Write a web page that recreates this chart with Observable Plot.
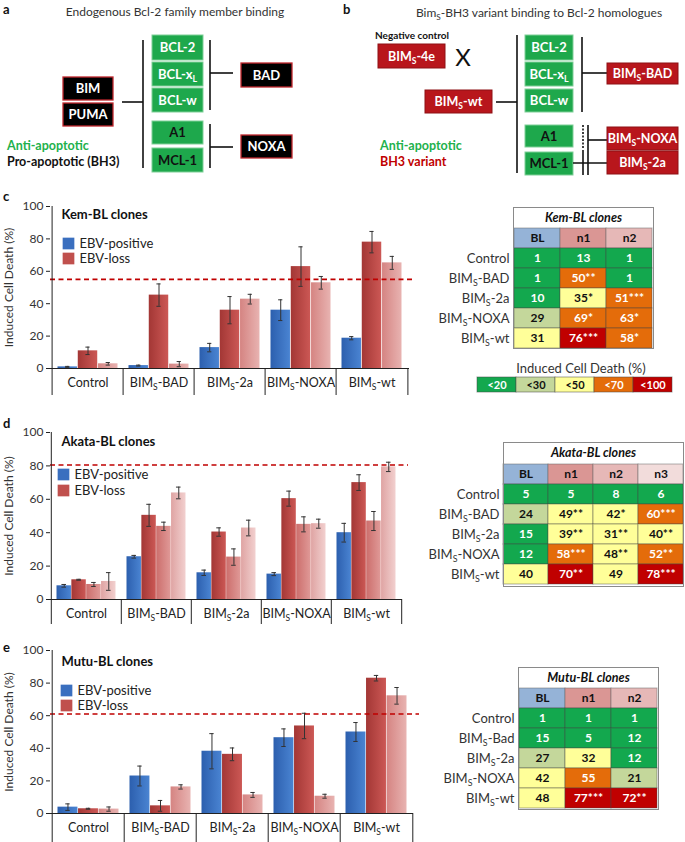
<!DOCTYPE html>
<html><head><meta charset="utf-8">
<script src="https://cdn.jsdelivr.net/npm/d3@7"></script>
<script src="https://cdn.jsdelivr.net/npm/@observablehq/plot@0.6"></script>
<style>
body{margin:0;background:#fff;font-family:Lato,"Open Sans",sans-serif;}
#root{position:relative;width:685px;height:842px;overflow:hidden;background:#fff;}
.abs{position:absolute;}
</style></head><body><div id="root"></div>
<script>
// ---------- data ----------
const categories = ["Control","BIM_S-BAD","BIM_S-2a","BIM_S-NOXA","BIM_S-wt"];
const legendNames = ["EBV-positive","EBV-loss"];

// panel c: Kem-BL clones
const kemSeries = ["BL","n1","n2"];
const kemBL     = [1.0, 1.8, 12.9, 36.0, 18.7];
const kemBLErr  = [0.3, 0.3, 2.6, 6.4, 1.0];
const kemN1     = [10.9, 45.3, 36.0, 62.9, 78.0];
const kemN1Err  = [2.3, 6.9, 8.4, 12.2, 6.6];
const kemN2     = [2.9, 2.7, 42.8, 52.9, 65.2];
const kemN2Err  = [0.8, 1.6, 3.0, 3.9, 4.0];
const kemLine   = 55;

// panel d: Akata-BL clones
const akataSeries = ["BL","n1","n2","n3"];
const akataBL     = [8.2, 25.6, 16.0, 15.2, 40.0];
const akataBLErr  = [0.8, 0.8, 1.6, 0.9, 5.6];
const akataN1     = [11.8, 50.4, 40.4, 60.4, 70.0];
const akataN1Err  = [0.3, 6.6, 2.5, 4.5, 4.7];
const akataN2     = [9.0, 43.8, 25.4, 45.0, 47.0];
const akataN2Err  = [1.2, 2.5, 4.9, 4.5, 5.7];
const akataN3     = [10.8, 63.8, 42.8, 45.4, 79.4];
const akataN3Err  = [5.3, 3.5, 4.7, 2.7, 2.8];
const akataLine   = 80.5;

// panel e: Mutu-BL clones
const mutuSeries = ["BL","n1","n2"];
const mutuBL     = [3.9, 23.0, 38.2, 46.5, 50.0];
const mutuBLErr  = [2.0, 6.1, 10.8, 5.4, 5.8];
const mutuN1     = [2.9, 4.7, 36.3, 53.7, 83.0];
const mutuN1Err  = [0.3, 3.3, 3.9, 7.8, 1.7];
const mutuN2     = [2.7, 16.3, 11.4, 10.6, 72.2];
const mutuN2Err  = [1.3, 1.3, 1.5, 1.2, 5.1];
const mutuLine   = 61;

// heat tables
const kemRows   = ["Control","BIM_S-BAD","BIM_S-2a","BIM_S-NOXA","BIM_S-wt"];
const kemValues = [[1,13,1],[1,50,1],[10,35,51],[29,69,63],[31,76,58]];
const kemStars  = [["","",""],["","**",""],["","*","***"],["","*","*"],["","***","*"]];
const akataRows   = ["Control","BIM_S-BAD","BIM_S-2a","BIM_S-NOXA","BIM_S-wt"];
const akataValues = [[5,5,8,6],[24,49,42,60],[15,39,31,40],[12,58,48,52],[40,70,49,78]];
const akataStars  = [["","","",""],["","**","*","***"],["","**","**","**"],["","***","**","**"],["","**","","***"]];
const mutuRows   = ["Control","BIM_S-Bad","BIM_S-2a","BIM_S-NOXA","BIM_S-wt"];
const mutuValues = [[1,1,1],[15,5,12],[27,32,12],[42,55,21],[48,77,72]];
const mutuStars  = [["","",""],["","",""],["","",""],["","",""],["","***","**"]];
const heatThresholds = [20,30,50,70];
const heatColors = ["#13a84e","#c4d79b","#ffff99","#e46c0a","#c00000"];
const heatLabels = ["<20","<30","<50","<70","<100"];
const headerColors = ["#95b3d7","#da9694","#e6b8b7","#f2dcdb"];

// ---------- helpers ----------
const root = document.getElementById("root");
const NS = "http://www.w3.org/2000/svg";
function place(node, left, top){
  const d = document.createElement("div"); d.className="abs";
  d.style.left=left+"px"; d.style.top=top+"px"; d.appendChild(node); root.appendChild(d); return d;
}
function subscriptify(node){
  node.querySelectorAll("text").forEach(t=>{
    const s = t.textContent; if(!s.includes("_S")) return;
    const [a,b] = s.split("_S"); t.textContent="";
    const t1=document.createElementNS(NS,"tspan"); t1.textContent=a; t.appendChild(t1);
    const t2=document.createElementNS(NS,"tspan"); t2.textContent="S"; t2.setAttribute("dy","3"); t2.setAttribute("font-size","0.68em"); t.appendChild(t2);
    const t3=document.createElementNS(NS,"tspan"); t3.textContent=b; t3.setAttribute("dy","-3"); t.appendChild(t3);
  });
}

// gradients
const defs = `<svg width="0" height="0" style="position:absolute"><defs>
<linearGradient id="gBlue" x1="0" x2="1"><stop offset="0" stop-color="#2c5fae"/><stop offset="1" stop-color="#4a84d2"/></linearGradient>
<linearGradient id="gRed1" x1="0" x2="1"><stop offset="0" stop-color="#a33735"/><stop offset="1" stop-color="#cc5855"/></linearGradient>
<linearGradient id="gRed2" x1="0" x2="1"><stop offset="0" stop-color="#cc6e6c"/><stop offset="1" stop-color="#e09a98"/></linearGradient>
<linearGradient id="gRed2L" x1="0" x2="1"><stop offset="0" stop-color="#d58482"/><stop offset="1" stop-color="#e8b3b1"/></linearGradient>
<linearGradient id="gRed3" x1="0" x2="1"><stop offset="0" stop-color="#dfa4a3"/><stop offset="1" stop-color="#f2d0cf"/></linearGradient>
</defs></svg>`;
root.insertAdjacentHTML("beforeend", defs);

function barChart({series, means, errs, grads, line, title, left, top, width, plotRight, plotH, sepExtend, titleDy, legDy, legDx}){
  const marginLeft=50, marginTop=10, marginBottom=30;
  const marginRight = width - plotRight;
  const height = marginTop+plotH+marginBottom;
  const W = (plotRight-marginLeft)/categories.length;
  const g = 5.5, n = series.length, bw = (W-2*g)/n, cap = 5;
  const data = [];
  series.forEach((s,i)=>categories.forEach((c,j)=>data.push({cat:c, series:s, value:means[i][j], err:errs[i][j]})));
  const marks = [];
  series.forEach((s,i)=>{
    const sub = data.filter(d=>d.series===s);
    const l = g+i*bw, r = W-g-(i+1)*bw;
    marks.push(Plot.barY(sub,{x:"cat", y:"value", fill:`url(#${grads[i]})`, insetLeft:l, insetRight:r}));
  });
  series.forEach((s,i)=>{
    const sub = data.filter(d=>d.series===s);
    const off = -W/2+g+(i+0.5)*bw;
    const cl = g+(i+0.5)*bw-cap/2, cr = W-cl-cap;
    marks.push(Plot.ruleX(sub,{x:"cat", y1:d=>d.value-d.err, y2:d=>d.value+d.err, dx:off, stroke:"#333", strokeWidth:1}));
    marks.push(Plot.tickY(sub,{x:"cat", y:d=>d.value+d.err, insetLeft:cl, insetRight:cr, stroke:"#333"}));
    marks.push(Plot.tickY(sub,{x:"cat", y:d=>d.value-d.err, insetLeft:cl, insetRight:cr, stroke:"#333"}));
  });
  marks.push(
    Plot.ruleY([0],{stroke:"#222"}),
    Plot.ruleY([line],{stroke:"#c00000", strokeWidth:1.6, strokeDasharray:"5,3.5", insetRight:-6}),
    Plot.ruleX([categories[0]],{x:d=>d, dx:-W/2, insetBottom:-sepExtend, stroke:"#222"}),
    Plot.ruleX(categories.slice(1),{x:d=>d, dx:-W/2, insetTop:plotH, insetBottom:-sepExtend, stroke:"#222"}),
    Plot.ruleX([categories[categories.length-1]],{x:d=>d, dx:W/2, insetTop:plotH, insetBottom:-sepExtend, stroke:"#222"}),
    Plot.axisY({ticks:[0,20,40,60,80,100], tickSize:4, tickPadding:3, fontSize:12, fill:"#333", label:"Induced Cell Death (%)", labelAnchor:"center", labelOffset:46, labelArrow:false}),
    Plot.axisX({tickSize:0, tickPadding:10, fontSize:12.5, fill:"#222", label:null}),
    Plot.text([title],{frameAnchor:"top-left", dx:11, dy:titleDy, text:d=>d, fontWeight:"bold", fontSize:13, textAnchor:"start", lineAnchor:"middle", fill:"#111"}),
    Plot.dot([legendNames[0]],{frameAnchor:"top-left", dx:legDx, dy:legDy[0], symbol:"square", r:6.6, fill:"#3a6fbf", stroke:"none"}),
    Plot.dot([legendNames[1]],{frameAnchor:"top-left", dx:legDx, dy:legDy[1], symbol:"square", r:6.6, fill:"#c0504d", stroke:"none"})
  );
  legendNames.forEach((nm,k)=>marks.push(Plot.text([nm],{frameAnchor:"top-left", dx:legDx+11, dy:legDy[k], text:d=>d, fontSize:13, textAnchor:"start", lineAnchor:"middle", fill:"#222"})));
  const svg = Plot.plot({
    width, height, marginLeft, marginRight, marginTop, marginBottom,
    style:{fontFamily:"Lato, 'Open Sans', sans-serif", fontSize:"12px", color:"#222", background:"transparent", overflow:"visible"},
    x:{type:"band", domain:categories, padding:0},
    y:{domain:[0,100]},
    marks
  });
  subscriptify(svg);
  place(svg, left, top);
}

function heatTable({rows, cols, values, stars, title, left, top, width, marginLeft, marginRight, plotH}){
  const marginTop=4, marginBottom=4;
  const data=[];
  rows.forEach((r,i)=>cols.forEach((c,j)=>data.push({row:r, col:c, value:values[i][j], label:values[i][j]+stars[i][j]})));
  const dark = d => d.value>=heatThresholds[0] && d.value<heatThresholds[2];
  const rowH = plotH/(rows.length+2);
  const marks = [
    ...cols.map((c,j)=>Plot.cell([c],{x:d=>d, y:()=>"header", fill:headerColors[j], stroke:"#666", strokeOpacity:0.5})),
    Plot.cell(data,{x:"col", y:"row", fill:"value", stroke:"#444", strokeOpacity:0.45}),
    Plot.text(cols,{x:d=>d, y:()=>"header", text:d=>d, fill:"#111", fontWeight:"bold", fontSize:12}),
    Plot.text(data.filter(dark),{x:"col", y:"row", text:"label", fill:"#111", fontWeight:"bold", fontSize:12}),
    Plot.text(data.filter(d=>!dark(d)),{x:"col", y:"row", text:"label", fill:"#fff", fontWeight:"bold", fontSize:12}),
    Plot.text([title],{frameAnchor:"top", dy:rowH/2, text:d=>d, fontStyle:"italic", fontWeight:"bold", fontSize:12.5, lineAnchor:"middle", fill:"#111"}),
    Plot.frame({stroke:"#8a8a8a"}),
    Plot.axisY({ticks:rows, tickSize:0, tickPadding:4, fontSize:13, fill:"#333", label:null})
  ];
  const svg = Plot.plot({
    width, height:marginTop+plotH+marginBottom, marginLeft, marginRight, marginTop, marginBottom,
    style:{fontFamily:"Lato, 'Open Sans', sans-serif", fontSize:"12px", color:"#222", background:"transparent", overflow:"visible"},
    x:{type:"band", domain:cols, padding:0, axis:null},
    y:{type:"band", domain:["title","header",...rows], padding:0},
    color:{type:"threshold", domain:heatThresholds, range:heatColors},
    marks
  });
  subscriptify(svg);
  place(svg, left, top);
}

function heatLegend({left, top}){
  const svg = Plot.plot({
    width:210, height:34, marginLeft:6, marginRight:7, marginTop:17, marginBottom:2,
    style:{fontFamily:"Lato, 'Open Sans', sans-serif", fontSize:"12px", color:"#222", background:"transparent", overflow:"visible"},
    x:{type:"band", domain:heatLabels, padding:0, axis:null},
    color:{type:"ordinal", domain:heatLabels, range:heatColors},
    marks:[
      Plot.cell(heatLabels,{x:d=>d, fill:d=>d, stroke:"#444", strokeOpacity:0.5}),
      Plot.text(heatLabels.filter((d,i)=>i===1||i===2),{x:d=>d, text:d=>d, fill:"#111", fontWeight:"bold", fontSize:11}),
      Plot.text(heatLabels.filter((d,i)=>!(i===1||i===2)),{x:d=>d, text:d=>d, fill:"#fff", fontWeight:"bold", fontSize:11}),
      Plot.text(["Induced Cell Death (%)"],{frameAnchor:"top", dx:6, dy:-9, text:d=>d, fontSize:13, lineAnchor:"middle", fill:"#333"})
    ]
  });
  place(svg, left, top);
}

// ---------- diagrams (panels a, b) ----------
const green="#1ea84c", greenBorder="#7fcf97";
function gbox(x,y,w,h,label,dark){return `<rect x="${x}" y="${y}" width="${w}" height="${h}" fill="${green}" stroke="${greenBorder}" stroke-width="1"/><text x="${x+w/2}" y="${y+h/2}" dy="0.36em" text-anchor="middle" font-weight="bold" font-size="13" fill="${dark?'#111':'#fff'}">${label}</text>`;}
function bbox(x,y,w,h,label){return `<rect x="${x}" y="${y}" width="${w}" height="${h}" fill="#000" stroke="#c0272d" stroke-width="1.3"/><text x="${x+w/2}" y="${y+h/2}" dy="0.36em" text-anchor="middle" font-weight="bold" font-size="13" fill="#fff">${label}</text>`;}
function rbox(x,y,w,h,label){return `<rect x="${x}" y="${y}" width="${w}" height="${h}" fill="#b8161c" stroke="#8e1014" stroke-width="1"/><text x="${x+w/2}" y="${y+h/2}" dy="0.36em" text-anchor="middle" font-weight="bold" font-size="12.5" fill="#fff">${label}</text>`;}
function ln(x1,y1,x2,y2,extra=""){return `<line x1="${x1}" y1="${y1}" x2="${x2}" y2="${y2}" stroke="#111" stroke-width="1.6" ${extra}/>`;}
const subS = `<tspan dy="3" font-size="0.68em">S</tspan><tspan dy="-3">`;
const bimS = t => `BIM${subS}${t}</tspan>`;
const xl = `BCL-x<tspan dy="3" font-size="0.68em">L</tspan>`;
const diag = `<svg width="685" height="190" style="position:absolute;left:0;top:0;font-family:Lato,'Open Sans',sans-serif">
<text x="3" y="14" font-weight="bold" font-size="13" fill="#111">a</text>
<text x="175" y="16" text-anchor="middle" font-size="12" fill="#333">Endogenous Bcl-2 family member binding</text>
${bbox(63,77,50,23,"BIM")}${bbox(63,103,50,23,"PUMA")}
${ln(122,102,143,102)}${ln(143,40,143,168)}
${gbox(152,35,51,25,"BCL-2")}${gbox(152,62,51,24,xl)}${gbox(152,88,51,24,"BCL-w")}${gbox(152,121,51,23,"A1",true)}${gbox(152,148,51,24,"MCL-1",true)}
${ln(210,40,210,110)}${ln(210,73,233,73)}${bbox(241,63,51,24,"BAD")}
${ln(210,124,210,168)}${ln(210,147,233,147)}${bbox(241,135,51,23,"NOXA")}
<text x="7" y="150" font-weight="bold" font-size="12.5" fill="#22b14c">Anti-apoptotic</text>
<text x="7" y="166" font-weight="bold" font-size="12.5" fill="#111">Pro-apoptotic (BH3)</text>

<text x="343" y="14" font-weight="bold" font-size="13" fill="#111">b</text>
<text x="539" y="17" text-anchor="middle" font-size="12" fill="#333">Bim<tspan dy="3" font-size="0.68em">S</tspan><tspan dy="-3">-BH3 variant binding to Bcl-2 homologues</tspan></text>
<text x="375" y="39" font-weight="bold" font-size="10" fill="#111">Negative control</text>
${rbox(378,44,67,24,bimS("-4e"))}
<text x="463" y="57" dy="0.36em" text-anchor="middle" font-size="24" fill="#111">X</text>
${rbox(425,90,67,23,bimS("-wt"))}
${ln(496,102,517,102)}${ln(517,35,517,173)}
${gbox(525,35,48,25,"BCL-2")}${gbox(525,62,48,24,xl)}${gbox(525,89,48,23,"BCL-w")}${gbox(525,125,48,22,"A1",true)}${gbox(525,152,48,23,"MCL-1",true)}
${ln(582,37,582,112)}${ln(582,73,607,73)}${rbox(607,63,71,21,bimS("-BAD"))}
${ln(583,125,583,148,'stroke-dasharray="2,1.5"')}${ln(583,150,583,175)}${ln(588,125,588,175)}
${ln(588,140,607,140)}${ln(573,163,607,163)}
${rbox(607,127,71,23,bimS("-NOXA"))}${rbox(607,151,71,23,bimS("-2a"))}
<text x="380" y="150" font-weight="bold" font-size="12.5" fill="#22b14c">Anti-apoptotic</text>
<text x="380" y="166" font-weight="bold" font-size="12.5" fill="#c00000">BH3 variant</text>
</svg>`;
root.insertAdjacentHTML("beforeend", diag);
// panel letters c, d, e
[["c",197],["d",424],["e",648]].forEach(([l,y])=>root.insertAdjacentHTML("beforeend",`<div class="abs" style="left:3px;top:${y-9}px;font:bold 13px Lato,sans-serif;color:#111">${l}</div>`));

// ---------- charts ----------
barChart({series:kemSeries, means:[kemBL,kemN1,kemN2], errs:[kemBLErr,kemN1Err,kemN2Err], grads:["gBlue","gRed1","gRed2L"], line:kemLine,
  title:"Kem-BL clones", left:0, top:196, width:420, plotRight:409, plotH:162, sepExtend:27, titleDy:8, legDy:[37,52], legDx:18});
barChart({series:akataSeries, means:[akataBL,akataN1,akataN2,akataN3], errs:[akataBLErr,akataN1Err,akataN2Err,akataN3Err], grads:["gBlue","gRed1","gRed2","gRed3"], line:akataLine,
  title:"Akata-BL clones", left:0, top:422, width:413, plotRight:402, plotH:167, sepExtend:25, titleDy:9, legDy:[42,58], legDx:13});
barChart({series:mutuSeries, means:[mutuBL,mutuN1,mutuN2], errs:[mutuBLErr,mutuN1Err,mutuN2Err], grads:["gBlue","gRed1","gRed2L"], line:mutuLine,
  title:"Mutu-BL clones", left:0, top:640, width:424, plotRight:413, plotH:163, sepExtend:30, titleDy:11, legDy:[40,55], legDx:16});

heatTable({rows:kemRows, cols:["BL","n1","n2"], values:kemValues, stars:kemStars, title:"Kem-BL clones", left:420, top:203, width:265, marginLeft:93, marginRight:32, plotH:141});
heatLegend({left:470, top:360});
heatTable({rows:akataRows, cols:["BL","n1","n2","n3"], values:akataValues, stars:akataStars, title:"Akata-BL clones", left:410, top:438, width:275, marginLeft:93, marginRight:2, plotH:144});
heatTable({rows:mutuRows, cols:["BL","n1","n2"], values:mutuValues, stars:mutuStars, title:"Mutu-BL clones", left:420, top:663, width:265, marginLeft:98, marginRight:27, plotH:142});
</script></body></html>
